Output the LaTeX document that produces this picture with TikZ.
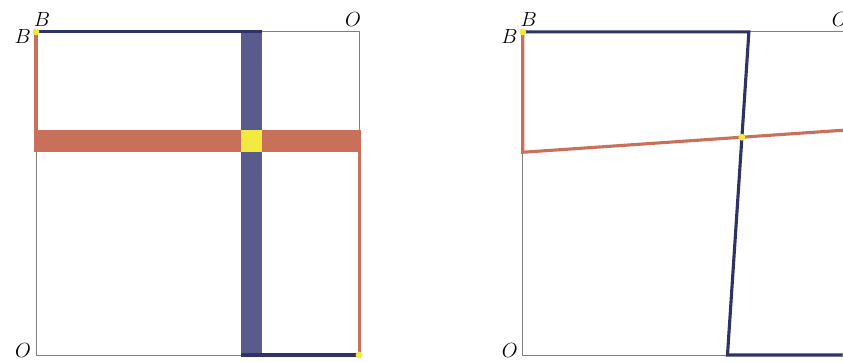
\documentclass[tikz,border=0pt]{standalone}
\usepackage{tikz}
\usetikzlibrary{calc}

\definecolor{navy}{HTML}{2F3267}
\definecolor{bandblue}{HTML}{585B8B}
\definecolor{rust}{HTML}{C9705A}
\definecolor{yell}{HTML}{F2EA40}

\begin{document}
\begin{tikzpicture}[
        frame/.style={draw=gray, line width=0.6pt},
        blueline/.style={draw=navy, line width=2.2pt},
        redline/.style={draw=rust, line width=2.2pt},
        dot/.style={circle, fill=yell, inner sep=0pt, minimum size=1.7mm},
        lbl/.style={font=\Large}
    ]
        \useasboundingbox (-0.89,-0.17) rectangle (19.98,8.79);

        % Left square
        \coordinate (O1) at (0,0);
        \coordinate (B1) at (0,8);
        \coordinate (C1) at (8,0);
        \coordinate (D1) at (8,8);
        \draw[frame] (O1) rectangle (D1);

        \fill[bandblue] (5.07,0) rectangle (5.6,8);
        \fill[rust] (0,5.02) rectangle (8,5.57);
        \fill[yell] (5.07,5.02) rectangle (5.6,5.57);

        \draw[blueline] (B1) -- (5.6,8);
        \draw[blueline] (5.07,0) -- (C1);
        \draw[redline] (B1) -- (0,5.02);
        \draw[redline] (8,5.57) -- (C1);

        \node[dot] (b1dot) at (B1) {};
        \node[dot] (c1dot) at (C1) {};

        \node[lbl, anchor=south, xshift=0.15cm] (b1top) at (B1) {$B$};
        \node[lbl, anchor=east, yshift=-0.12cm] (b1left) at (B1) {$B$};
        \node[lbl, anchor=south, xshift=-0.15cm] (o1top) at (D1) {$O$};
        \node[lbl, anchor=east, yshift=0.11cm] (o1left) at (O1) {$O$};

        % Right square
        \coordinate (O2) at (12.05,0);
        \coordinate (B2) at (12.05,8);
        \coordinate (C2) at (20.05,0);
        \coordinate (D2) at (20.05,8);
        \coordinate (bt) at (17.65,8);
        \coordinate (bb) at (17.12,0);
        \coordinate (rl) at (12.05,5.02);
        \coordinate (rr) at (20.05,5.57);
        \draw[frame] (O2) rectangle (D2);

        \draw[blueline] (B2) -- (bt) -- (bb) -- (C2);
        \draw[redline] (B2) -- (rl) -- (rr) -- (C2);
        \coordinate (X) at (intersection of bt--bb and rl--rr);

        \node[dot] (b2dot) at (B2) {};
        \node[dot] (xdot) at (X) {};
        \node[dot] (c2dot) at (C2) {};

        \node[lbl, anchor=south, xshift=0.15cm] (b2top) at (B2) {$B$};
        \node[lbl, anchor=east, yshift=-0.12cm] (b2left) at (B2) {$B$};
        \node[lbl, anchor=south, xshift=-0.15cm] (o2top) at (D2) {$O$};
        \node[lbl, anchor=east, yshift=0.11cm] (o2left) at (O2) {$O$};
    \end{tikzpicture}
\end{document}
